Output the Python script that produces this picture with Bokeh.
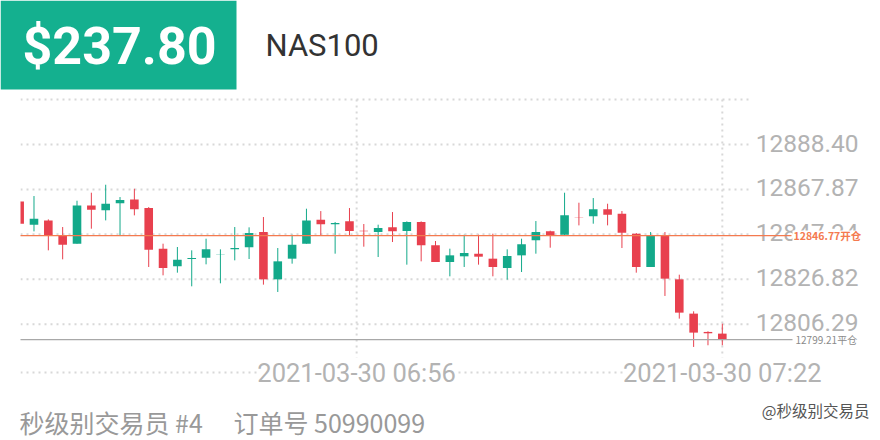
from bokeh.plotting import figure
from bokeh.models import Range1d, Label
from bokeh.embed import file_html
from bokeh.resources import INLINE
from bokeh.core.properties import value

# ---------------- data ----------------
opens = [12862.41, 12851.76, 12853.73, 12846.88, 12843.08, 12860.58, 12858.30, 12861.50, 12863.32, 12859.37,
         12840.80, 12832.73, 12836.08, 12836.69, 12838.10, 12840.49, 12841.40, 12848.41, 12826.79, 12836.23,
         12843.08, 12854.04, 12851.91, 12853.28, 12849.02, 12848.41, 12850.54, 12848.86, 12852.97, 12842.32,
         12834.71, 12837.30, 12838.51, 12836.23, 12831.97, 12837.75, 12844.60, 12848.71, 12847.19, 12855.00,
         12855.56, 12858.76, 12856.78, 12847.65, 12832.43, 12846.88, 12826.79, 12811.12, 12802.75, 12801.98]
highs = [12862.60, 12864.85, 12854.19, 12850.69, 12862.71, 12866.37, 12870.02, 12864.39, 12868.19, 12859.80,
         12843.08, 12841.56, 12840.04, 12845.36, 12840.49, 12850.69, 12850.54, 12855.26, 12841.10, 12847.19,
         12859.06, 12857.98, 12852.97, 12859.37, 12852.06, 12851.76, 12857.54, 12853.28, 12853.28, 12844.30,
         12840.80, 12847.19, 12847.19, 12847.65, 12840.49, 12845.36, 12853.43, 12849.02, 12866.37, 12861.80,
         12863.93, 12861.34, 12858.00, 12847.95, 12848.41, 12848.41, 12828.92, 12812.18, 12803.05, 12806.55]
lows = [12852.00, 12848.71, 12840.04, 12835.93, 12843.08, 12849.93, 12853.73, 12846.58, 12856.02, 12832.43,
        12828.62, 12829.84, 12823.60, 12833.64, 12824.97, 12835.47, 12836.08, 12824.36, 12821.01, 12833.95,
        12843.08, 12846.88, 12838.51, 12846.58, 12841.71, 12836.99, 12843.84, 12833.49, 12835.01, 12834.71,
        12828.16, 12832.43, 12833.49, 12828.16, 12826.64, 12830.14, 12838.51, 12841.25, 12846.58, 12851.45,
        12852.21, 12851.45, 12841.10, 12829.84, 12832.43, 12819.19, 12808.83, 12795.90, 12796.66, 12796.66]
closes = [12852.21, 12854.50, 12846.88, 12842.62, 12860.58, 12858.60, 12861.34, 12863.02, 12858.76, 12840.34,
          12831.97, 12835.77, 12836.54, 12840.49, 12838.20, 12841.10, 12847.95, 12826.79, 12835.01, 12842.62,
          12853.73, 12851.91, 12852.52, 12848.86, 12848.71, 12850.23, 12848.71, 12852.97, 12842.32, 12834.71,
          12837.75, 12838.82, 12837.14, 12832.43, 12837.45, 12842.78, 12848.41, 12846.88, 12856.02, 12854.90,
          12858.76, 12856.32, 12848.10, 12832.43, 12846.88, 12827.10, 12811.57, 12802.44, 12802.14, 12799.40]

price_ticks = [12806.29, 12826.82, 12847.34, 12867.87, 12888.40]
price_tick_labels = ["12806.29", "12826.82", "12847.34", "12867.87", "12888.40"]
grid_extra = [12908.93]
time_tick_pos = [23.5, 49]
time_tick_labels = ["2021-03-30 06:56", "2021-03-30 07:22"]

open_price = 12846.77
open_label = "12846.77开仓"
close_price = 12799.21
close_label = "12799.21平仓"

pnl_text = "$237.80"
symbol = "NAS100"
trader_text = "秒级别交易员 #4"
order_text = "订单号 50990099"
watermark = "@秒级别交易员"

# ---------------- layout helpers ----------------
W, H = 880, 440
BAR_PX = 14.34
BAR0_PX = 19.15
UNIT_PX = 2.1885
REF_PRICE, REF_PX = 12888.40, 144.0

x_start = -BAR0_PX / BAR_PX
x_end = (W - BAR0_PX) / BAR_PX
y_end = REF_PRICE + REF_PX / UNIT_PX
y_start = REF_PRICE - (H - REF_PX) / UNIT_PX


def X(px):
    return x_start + px / BAR_PX


def Y(py):
    return y_end - py / UNIT_PX


GREEN = "#13a98a"
RED = "#e8404e"
BADGE = "#14b08f"
ORANGE = "#f47a4f"
GRID = "#d8d8d8"
AXIS_TXT = "#b3b3b3"

p = figure(width=W, height=H, x_range=Range1d(x_start, x_end), y_range=Range1d(y_start, y_end),
           output_backend="svg", toolbar_location=None, x_axis_type=None, y_axis_type=None,
           min_border=0, outline_line_color=None)
p.background_fill_color = "white"
p.border_fill_color = "white"
p.styles = {"position": "absolute", "left": "0px", "top": "0px"}

# grid lines
gvals = price_ticks + grid_extra
p.segment(x0=[X(20)] * len(gvals), x1=[X(750)] * len(gvals), y0=gvals, y1=gvals,
          line_color=GRID, line_width=2, line_dash="2 4")
p.segment(x0=time_tick_pos, x1=time_tick_pos, y0=[Y(99)] * 2, y1=[Y(364)] * 2,
          line_color=GRID, line_width=2, line_dash="2 4")
p.segment(x0=[X(20)], x1=[X(750)], y0=[Y(372)], y1=[Y(372)],
          line_color=GRID, line_width=2, line_dash="2 4")

# candles
idx = list(range(len(opens)))
cols = [GREEN if c >= o else RED for o, c in zip(opens, closes)]
p.segment(x0=idx, x1=idx, y0=lows, y1=highs, line_color=cols, line_width=1)
p.vbar(x=idx, width=0.6, top=[max(o, c) for o, c in zip(opens, closes)],
       bottom=[min(o, c) for o, c in zip(opens, closes)], fill_color=cols, line_color=None)

# clip left edge
p.quad(left=[X(0)], right=[X(20)], top=[Y(95)], bottom=[Y(380)], fill_color="white", line_color=None)

# price axis labels (glyphs, so the open-price tag can sit on top)
p.text(x=[X(858)] * len(price_ticks), y=price_ticks, text=price_tick_labels, text_align="right",
       text_baseline="middle", text_font=value("Roboto"), text_font_size=value("24.5px"),
       text_color=AXIS_TXT, y_offset=-1.5)

# open / close lines
p.segment(x0=[X(20)], x1=[X(791)], y0=[open_price], y1=[open_price], line_color=ORANGE, line_width=1.2)
p.segment(x0=[X(20)], x1=[X(792)], y0=[close_price], y1=[close_price], line_color="#a8a8a8", line_width=1.2)

# open tag with white backing
p.quad(left=[X(792)], right=[X(859)], top=[Y(230)], bottom=[Y(241)], fill_color="white", line_color=None)
p.text(x=[X(793)], y=[open_price], text=[open_label], text_align="left", text_baseline="middle",
       text_font=value("Noto Sans CJK SC"), text_font_size=value("10.5px"), text_font_style="bold",
       text_color=ORANGE)
p.text(x=[X(795)], y=[close_price], text=[close_label], text_align="left", text_baseline="middle",
       text_font=value("Noto Sans CJK SC"), text_font_size=value("10px"), text_color="#8a8a8a")

# time labels
for xp, t in zip(time_tick_pos, time_tick_labels):
    p.add_layout(Label(x=xp, y=Y(372), text=t, text_align="center", text_baseline="middle",
                       text_font="Roboto", text_font_size="25.5px", text_color=AXIS_TXT,
                       background_fill_color="white"))

# header badge
p.quad(left=[X(0)], right=[X(236)], top=[Y(0)], bottom=[Y(89)], fill_color=BADGE, line_color=None)
p.add_layout(Label(x=X(22), y=Y(46), text=pnl_text, text_align="left", text_baseline="middle",
                   text_font="Roboto", text_font_size="52px", text_font_style="bold",
                   text_color="white"))
p.add_layout(Label(x=X(265), y=Y(45), text=symbol, text_align="left", text_baseline="middle",
                   text_font="Roboto", text_font_size="31px", text_color="#333333"))

# footer
p.add_layout(Label(x=X(19), y=Y(421), text=trader_text, text_align="left", text_baseline="middle",
                   text_font="Noto Sans CJK SC", text_font_size="25px", text_color="#999999"))
p.add_layout(Label(x=X(233), y=Y(421), text=order_text, text_align="left", text_baseline="middle",
                   text_font="Noto Sans CJK SC", text_font_size="25px", text_color="#999999"))
p.add_layout(Label(x=X(869), y=Y(409), text=watermark, text_align="right", text_baseline="middle",
                   text_font="Noto Sans CJK SC", text_font_size="15.5px", text_color="#555555"))

open("out.html", "w").write(file_html(p, INLINE))
